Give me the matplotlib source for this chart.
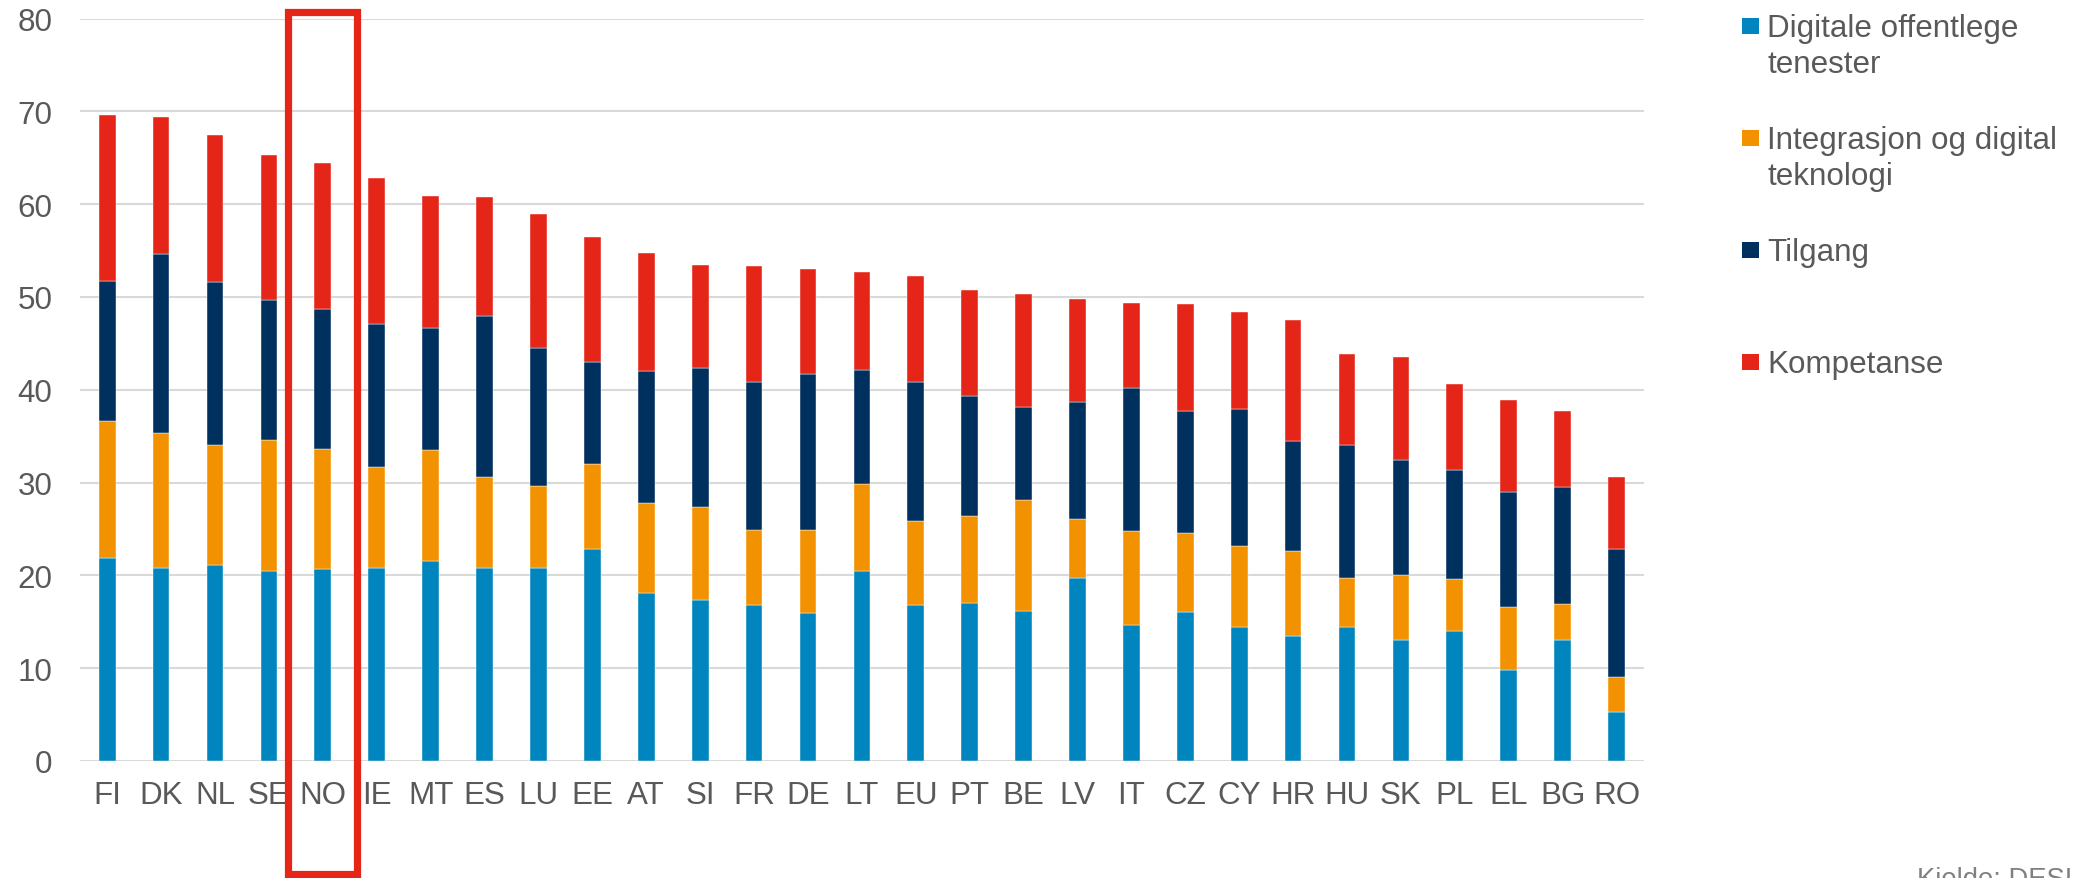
import matplotlib
matplotlib.use("Agg")
import matplotlib.pyplot as plt
from matplotlib.patches import Rectangle
import numpy as np

plt.rcParams['font.family'] = ['Liberation Sans', 'DejaVu Sans']

countries = ["FI", "DK", "NL", "SE", "NO", "IE", "MT", "ES", "LU", "EE", "AT", "SI", "FR", "DE",
             "LT", "EU", "PT", "BE", "LV", "IT", "CZ", "CY", "HR", "HU", "SK", "PL", "EL", "BG", "RO"]

digitale_offentlege = [21.9, 20.8, 21.1, 20.5, 20.7, 20.8, 21.6, 20.8, 20.8, 22.8, 18.1, 17.4, 16.8, 15.9,
                       20.5, 16.8, 17.0, 16.2, 19.7, 14.7, 16.1, 14.4, 13.5, 14.4, 13.0, 14.0, 9.8, 13.0, 5.3]
integrasjon = [14.7, 14.5, 13.0, 14.1, 12.9, 10.9, 11.9, 9.8, 8.8, 9.2, 9.7, 10.0, 8.1, 9.0,
               9.3, 9.1, 9.4, 11.9, 6.4, 10.1, 8.5, 8.8, 9.1, 5.3, 7.0, 5.6, 6.8, 3.9, 3.8]
tilgang = [15.1, 19.3, 17.5, 15.1, 15.1, 15.4, 13.2, 17.3, 14.9, 11.0, 14.2, 14.9, 15.9, 16.8,
           12.3, 14.9, 12.9, 10.0, 12.6, 15.4, 13.1, 14.7, 11.9, 14.4, 12.4, 11.7, 12.4, 12.6, 13.7]
kompetanse = [17.9, 14.8, 15.8, 15.6, 15.7, 15.7, 14.2, 12.9, 14.4, 13.5, 12.7, 11.1, 12.5, 11.3,
              10.6, 11.5, 11.5, 12.2, 11.1, 9.1, 11.5, 10.5, 13.0, 9.7, 11.1, 9.3, 9.9, 8.2, 7.8]

series_names = ["Digitale offentlege\ntenester", "Integrasjon og digital\nteknologi",
                "Tilgang", "Kompetanse"]
series_values = [digitale_offentlege, integrasjon, tilgang, kompetanse]
colors = ["#0085BE", "#F39200", "#00305E", "#E42518"]

y_ticks = [0, 10, 20, 30, 40, 50, 60, 70, 80]
highlight = "NO"
source_text = "Kjelde: DESI"

W, H = 2075, 879
FS = 22.6
fig = plt.figure(figsize=(W / 100, H / 100), dpi=100)
ax = fig.add_axes([80.25 / W, (H - 762) / H, (1643.5 - 80.25) / W, (762 - 19.5) / H])

x = np.arange(len(countries))
bottom = np.zeros(len(countries))
for name, vals, c in zip(series_names, series_values, colors):
    ax.bar(x, vals, width=0.31, bottom=bottom, color=c, edgecolor="white", linewidth=0.3,
           label=name, zorder=3)
    bottom += np.array(vals)

ax.set_xlim(-0.5, len(countries) - 0.5)
ax.set_ylim(0, 80)
ax.set_yticks(y_ticks)
ax.set_xticks(x)
ax.set_xticklabels(countries)
ax.tick_params(axis="both", length=0, labelsize=FS, colors="#595959")
ax.tick_params(axis="x", pad=14)
ax.tick_params(axis="y", pad=20)
ax.grid(axis="y", color="#d9d9d9", linewidth=1.5, zorder=0)
for s in ax.spines.values():
    s.set_visible(False)

# legend drawn manually
for i, (name, c) in enumerate(zip(series_names, colors)):
    yc = 26.9 + 112 * i
    fig.add_artist(Rectangle((1742.3 / W, (H - yc - 8.3) / H), 16.7 / W, 16.7 / H,
                             transform=fig.transFigure, facecolor=c, edgecolor="none"))
    for j, line in enumerate(name.split("\n")):
        fig.text(1767 / W, (H - (yc + 10 + 36 * j)) / H, line, fontsize=FS,
                 color="#595959", va="baseline", ha="left")

# highlight box around NO
idx = countries.index(highlight)
xc = ax.transData.transform((idx, 0))[0]
bw = 68.7
fig.add_artist(Rectangle(((xc - bw / 2) / W, (H - 875) / H), bw / W, (875 - 12.7) / H,
                         transform=fig.transFigure, facecolor="none",
                         edgecolor="#E42518", linewidth=5.2, clip_on=False))

fig.text(1917 / W, (H - 886.6) / H, source_text, fontsize=19.7, color="#808080",
         va="baseline", ha="left")

fig.savefig("out.png", dpi=100)
